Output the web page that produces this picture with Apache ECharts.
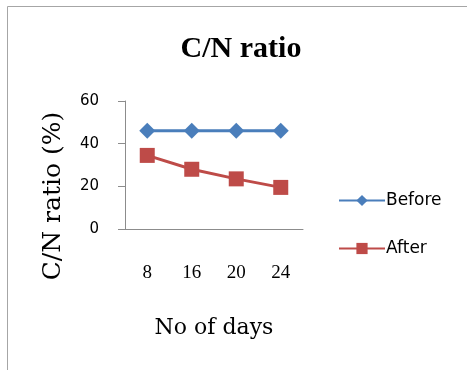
<!DOCTYPE html>
<html>
<head>
<meta charset="utf-8">
<script src="https://cdn.jsdelivr.net/npm/echarts@6/dist/echarts.min.js"></script>
<style>
  html, body { margin: 0; padding: 0; background: #fff; }
  #chart { width: 467px; height: 370px; }
</style>
</head>
<body>
<div id="chart"></div>
<script>
// data
const days = ["8", "16", "20", "24"];
const before = [46, 46, 46, 46];
const after = [34.5, 28, 23.5, 19.5];
const yTicks = [0, 20, 40, 60];

const chart = echarts.init(document.getElementById("chart"));

chart.setOption({
  backgroundColor: "#fff",
  animation: false,
  graphic: [
    {
      type: "rect",
      shape: { x: 7.5, y: 6.5, width: 480, height: 380 },
      style: { fill: "none", stroke: "#a6a6a6", lineWidth: 1 }
    },
    {
      // y axis title, sits lower than the plot middle in the original
      type: "text",
      x: 53,
      y: 196,
      rotation: Math.PI / 2,
      style: {
        text: "C/N ratio (%)",
        fontFamily: "DejaVu Serif",
        fontSize: 25,
        fill: "#000",
        align: "center",
        verticalAlign: "middle"
      }
    }
  ],
  title: {
    text: "C/N ratio",
    left: 236,
    top: 29,
    textAlign: "center",
    textStyle: { fontFamily: "Liberation Serif", fontWeight: "bold", fontSize: 30, color: "#000" }
  },
  legend: {
    orient: "vertical",
    left: 338,
    top: 192,
    padding: 0,
    itemGap: 31,
    itemWidth: 46,
    itemHeight: 14,
    textStyle: { fontFamily: "DejaVu Sans", fontSize: 17, color: "#000", padding: [0, 0, 0, -4] },
    data: ["Before", "After"]
  },
  grid: { left: 125, top: 101, width: 178, height: 128, containLabel: false },
  xAxis: {
    type: "category",
    data: days,
    boundaryGap: true,
    name: "No of days",
    nameLocation: "middle",
    nameGap: 88,
    nameTextStyle: { fontFamily: "DejaVu Serif", fontSize: 22, color: "#000" },
    axisLine: { lineStyle: { color: "#8c8c8c", width: 1 } },
    axisTick: { show: false },
    axisLabel: { fontFamily: "Liberation Serif", fontSize: 19, color: "#000", margin: 35 }
  },
  yAxis: {
    type: "value",
    min: 0,
    max: 60,
    interval: 20,
    axisLine: { show: true, lineStyle: { color: "#8c8c8c", width: 1 } },
    axisTick: { show: true, length: 7, lineStyle: { color: "#8c8c8c" } },
    splitLine: { show: false },
    axisLabel: {
      fontFamily: "DejaVu Sans",
      fontSize: 15,
      color: "#000",
      margin: 26,
      formatter: v => (yTicks.includes(v) ? String(v) : "")
    }
  },
  series: [
    {
      name: "Before",
      type: "line",
      data: before,
      symbol: "diamond",
      symbolSize: 16,
      itemStyle: { color: "#4a7ebb" },
      lineStyle: { color: "#4a7ebb", width: 3 }
    },
    {
      name: "After",
      type: "line",
      data: after,
      symbol: "rect",
      symbolSize: 15,
      itemStyle: { color: "#be4b48" },
      lineStyle: { color: "#be4b48", width: 3 }
    }
  ]
});
</script>
</body>
</html>
